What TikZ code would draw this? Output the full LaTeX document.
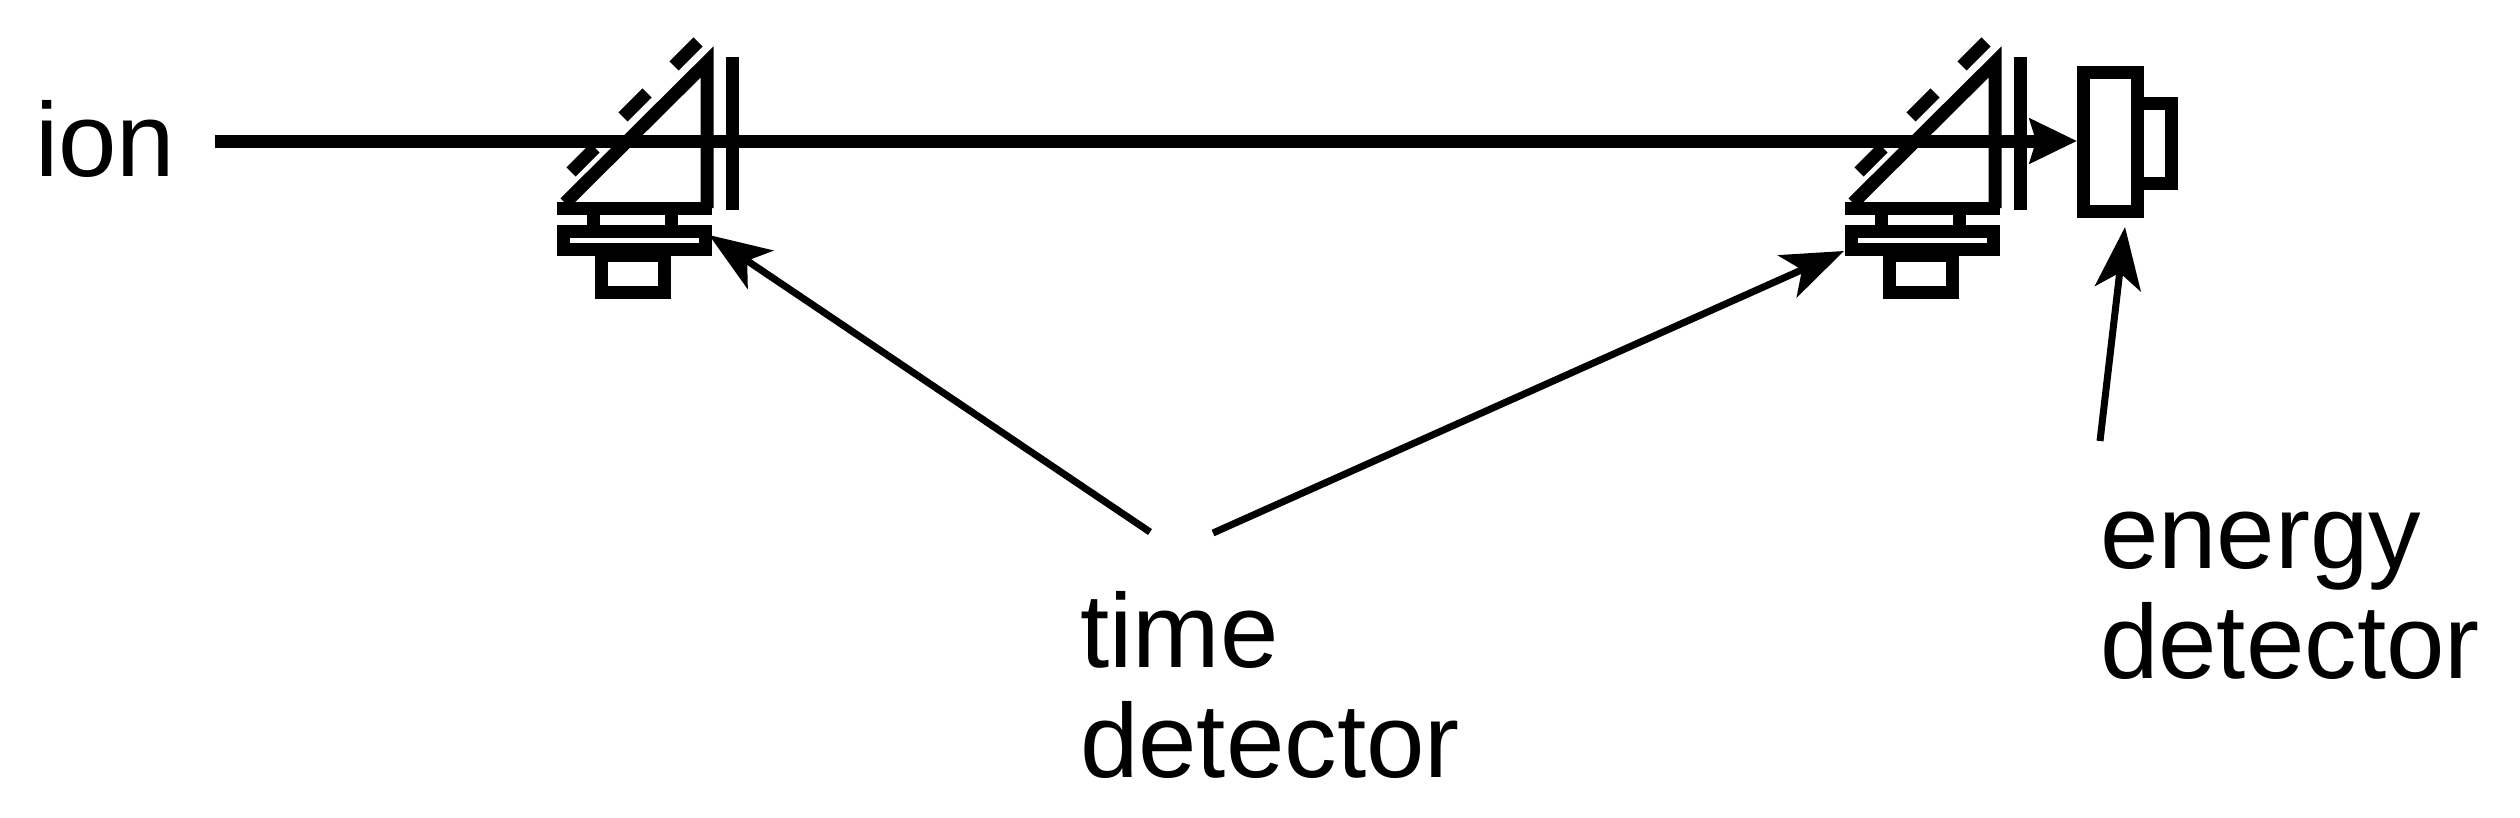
\documentclass[tikz,border=0pt]{standalone}
\usepackage{fontspec}
\setmainfont{Liberation Sans}
\usetikzlibrary{arrows.meta}
\begin{document}
\begin{tikzpicture}[x=1pt,y=-1pt,
  thick/.style={line width=13pt},
  ptr/.style={line width=7pt,-{Stealth[length=62pt,width=46pt,inset=16pt]}},
  lbl/.style={font=\fontsize{105}{110}\selectfont,anchor=base west,inner sep=0pt},
  tdet/.pic={
    \draw[thick] (565,203) -- (707,62) -- (707,208);
    \draw[thick] (557,208) -- (712,208);
    \draw[thick] (732,57) -- (732,210);
    \foreach \cx/\cy in {686/54,635/105,583/160}
      \draw[thick] (\cx-12,\cy+12) -- (\cx+12,\cy-12);
    \draw[thick] (593,208) -- (593,225) (671,208) -- (671,225);
    \draw[thick] (563,231) rectangle (705,249);
    \draw[thick] (601,255) rectangle (664,292);
  }]
\useasboundingbox (0,0) rectangle (2520,817);
\node[lbl] (ion) at (35,176) {ion};
\coordinate (b0) at (215,141);
\pic at (0,0) {tdet};
\pic at (1288,0) {tdet};
\draw[thick] (2083,72) rectangle (2137,211);
\draw[thick] (2137,103) -- (2171,103) -- (2171,183) -- (2137,183);
\coordinate (e0) at (2077,141);
\draw[thick,-{Stealth[length=47pt,width=44pt,inset=6pt]}] (b0) -- (e0);
\node[lbl] (time1) at (1080,667) {time};
\node[lbl] (time2) at (1080,777) {detector};
\node[lbl] (energy1) at (2100,568) {energy};
\node[lbl] (energy2) at (2100,678) {detector};
\coordinate (t1) at (1150,532);
\coordinate (t2) at (1213,533);
\coordinate (d1) at (709,235);
\coordinate (d2) at (1844,251);
\coordinate (e1) at (2100,441);
\coordinate (e2) at (2125,227);
\draw[ptr] (t1) -- (d1);
\draw[ptr] (t2) -- (d2);
\draw[ptr] (e1) -- (e2);
\end{tikzpicture}
\end{document}
